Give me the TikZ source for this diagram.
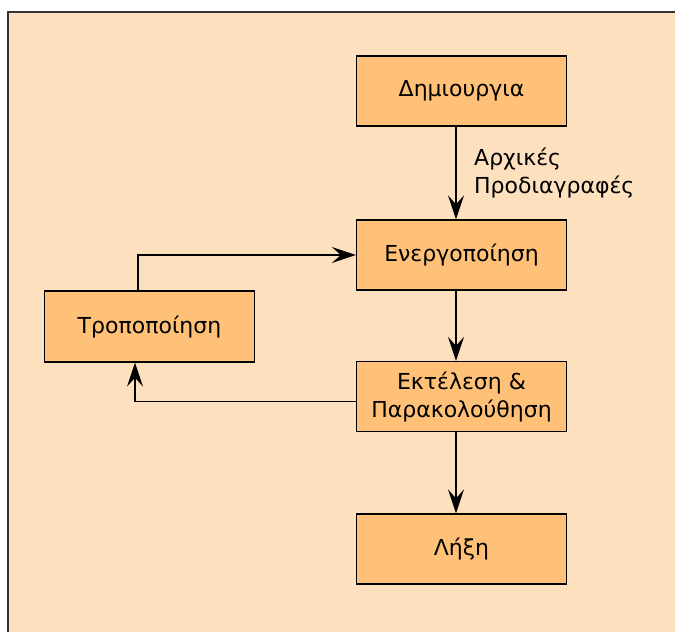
\documentclass[tikz,border=0pt]{standalone}
\usepackage{fontspec}
\setmainfont{DejaVu Sans}
\usetikzlibrary{arrows.meta}
\definecolor{bgpeach}{RGB}{253,224,190}
\definecolor{boxorange}{RGB}{255,193,120}
\tikzset{
  stage/.style={draw=black, line width=1.3pt, fill=boxorange, minimum width=210pt, minimum height=70pt, inner sep=0pt, align=center, font=\fontsize{22}{28}\selectfont},
  flow/.style={draw=black, line width=1.4pt, -{Stealth[length=24pt,width=16pt,inset=9pt]}},
}
\begin{document}
\begin{tikzpicture}[x=1pt,y=1pt]
\useasboundingbox (0,0) rectangle (675,-632);
\begin{scope}
\clip (0,0) rectangle (675,-632);
\draw[fill=bgpeach, line width=1.5pt, draw=black!80] (8,-12) rectangle (690,-650);
\end{scope}
\node[stage] (dim) at (461.5,-91) {Δημιουργια};
\node[stage] (ene) at (461.5,-255) {Ενεργοποίηση};
\node[stage, minimum height=71pt] (tro) at (149.5,-326.5) {Τροποποίηση};
\node[stage] (ekt) at (461.5,-396.5) {Εκτέλεση \&\\Παρακολούθηση};
\node[stage] (lix) at (461.5,-549) {Λήξη};
\node[anchor=base west, align=left, inner sep=0pt, font=\fontsize{22}{28}\selectfont] (lab) at (474,-193) {Αρχικές\\Προδιαγραφές};
\draw[flow] ([xshift=-5.5pt]dim.south) -- ([xshift=-5.5pt]ene.north);
\draw[flow] ([xshift=-5.5pt]ene.south) -- ([xshift=-5.5pt]ekt.north);
\draw[flow] ([xshift=-5.5pt]ekt.south) -- ([xshift=-5.5pt]lix.north);
\draw[flow] ([xshift=-11.5pt]tro.north) |- (ene.west);
\draw[flow] ([yshift=-5pt]ekt.west) -| ([xshift=-14.5pt]tro.south);
\end{tikzpicture}
\end{document}
